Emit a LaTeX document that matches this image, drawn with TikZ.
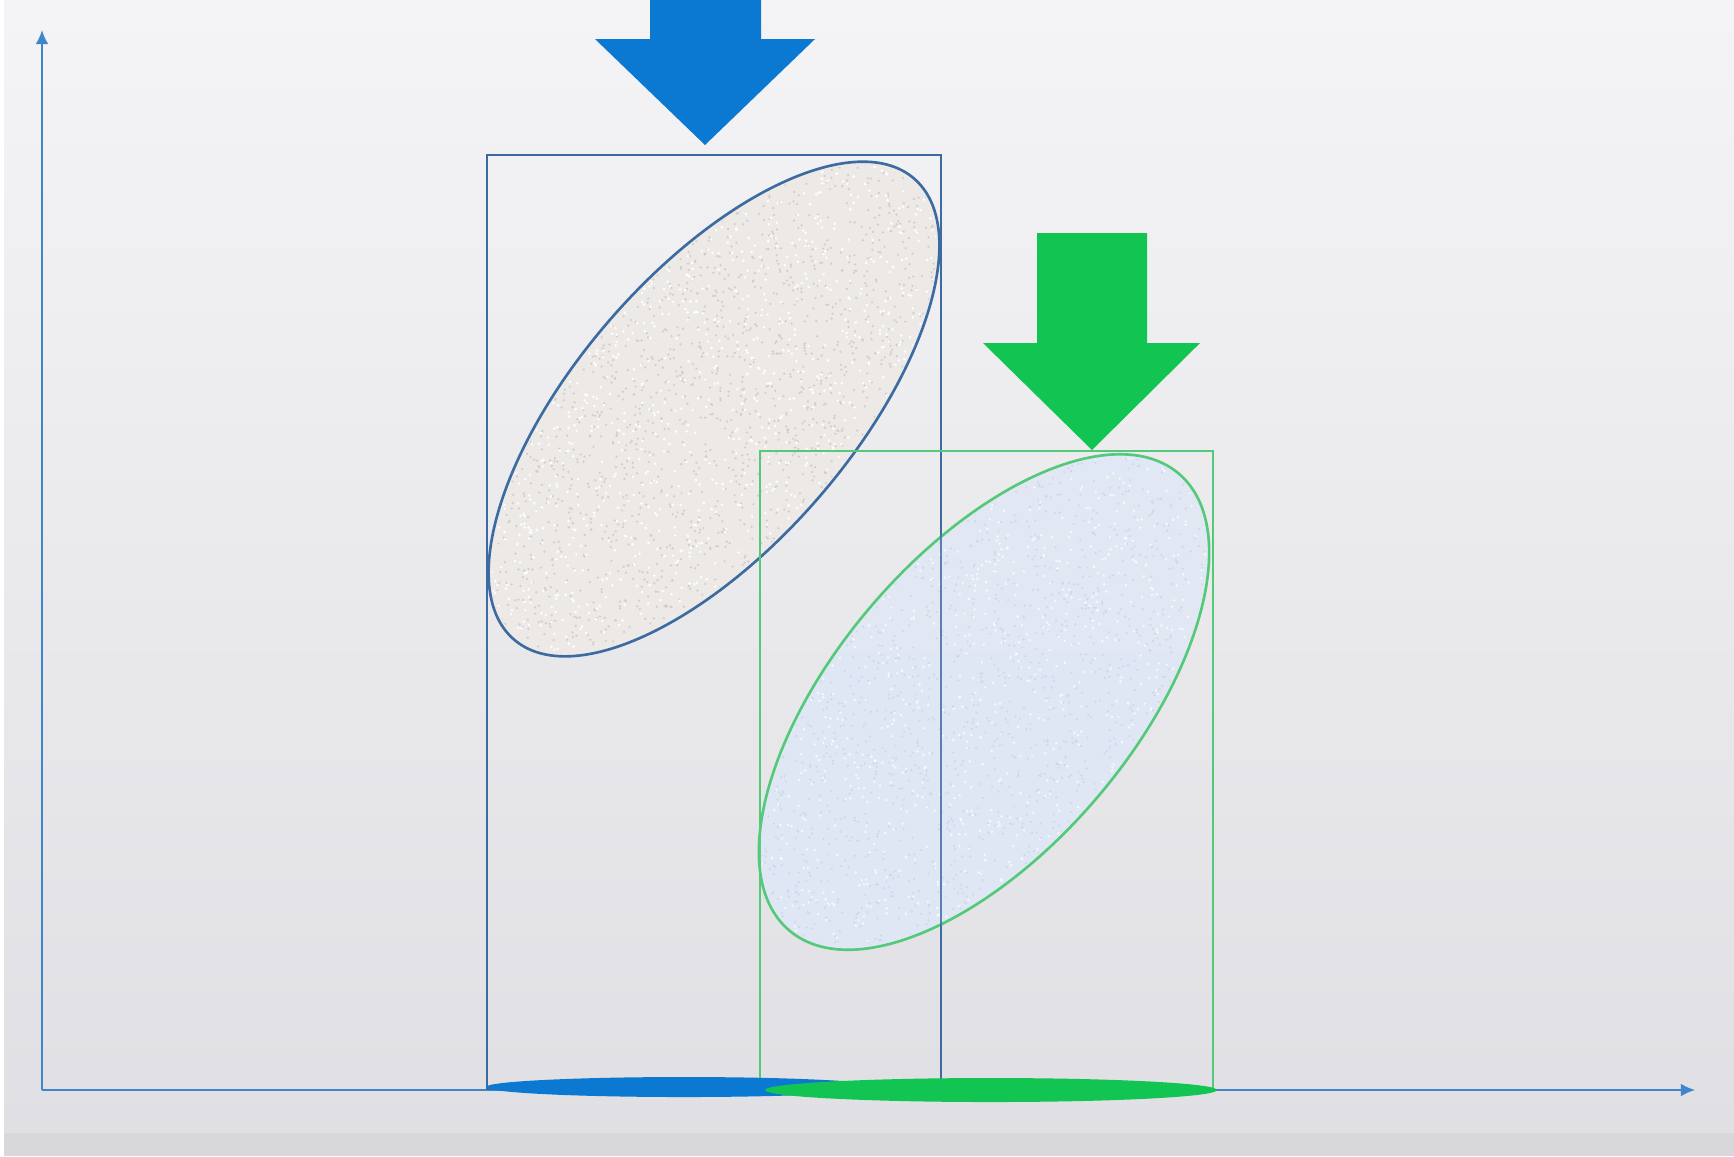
\documentclass[tikz,border=0pt]{standalone}
\usetikzlibrary{arrows.meta,shapes.geometric}
\definecolor{bgtop}{HTML}{F4F3F5}
\definecolor{bgbot}{HTML}{E0DFE3}
\definecolor{bgband}{HTML}{D8D8DA}
\definecolor{axisblue}{HTML}{3F85CC}
\definecolor{rectblue}{HTML}{3C6BA2}
\definecolor{rectgreen}{HTML}{55C97A}
\definecolor{arrowblue}{HTML}{0B78D2}
\definecolor{arrowgreen}{HTML}{12C553}
\definecolor{fillbeige}{HTML}{ECE9E6}
\definecolor{specbeige}{HTML}{D3CDC8}
\definecolor{filllblue}{HTML}{E0E8F6}
\definecolor{speclblue}{HTML}{CAD5E7}
\tikzset{
  axisline/.style={draw=axisblue,line width=0.5pt,-{Latex[length=4pt,width=3.6pt]}},
  bluebox/.style={draw=rectblue,line width=0.75pt},
  greenbox/.style={draw=rectgreen,line width=0.75pt},
  blueoval/.style={ellipse,draw=rectblue,line width=0.75pt,fill=fillbeige,inner sep=0pt,minimum width=6.1cm,minimum height=2.74cm,rotate=49},
  greenoval/.style={ellipse,draw=rectgreen,line width=0.75pt,fill=filllblue,fill opacity=0.88,draw opacity=1,inner sep=0pt,minimum width=6.0cm,minimum height=2.96cm,rotate=49.5},
  bigarrowblue/.style={fill=arrowblue},
  bigarrowgreen/.style={fill=arrowgreen},
  speck/.style={fill=#1},
}
\begin{document}
\begin{tikzpicture}[x=0.01cm,y=-0.01cm]
\useasboundingbox (0,0) rectangle (1734,1156);
% background
\shade[top color=bgtop,bottom color=bgbot] (0,0) rectangle (1734,1133);
\fill[bgband] (0,1133) rectangle (1734,1156);
\fill[white] (0,0) rectangle (4,1156);
% axes
\coordinate (O) at (42,1090);
\coordinate (Ytip) at (42,30);
\coordinate (Xtip) at (1695,1090);
\draw[axisline] (O) -- (Ytip);
\draw[axisline] (O) -- (Xtip);
% blue oval with speckle
\node[blueoval] (bov) at (714,409) {};
\begin{scope}
  \clip[rotate around={49:(bov.center)}] (bov.center) ellipse [x radius=302, y radius=134];
  \pgfmathsetseed{11}
  \foreach \i in {1,...,2200} {
    \pgfmathsetmacro\rx{rnd*460+484}
    \pgfmathsetmacro\ry{rnd*500+159}
    \fill[speck=specbeige] (\rx,\ry) circle [radius=0.35pt];
  }
  \foreach \i in {1,...,1400} {
    \pgfmathsetmacro\rx{rnd*460+484}
    \pgfmathsetmacro\ry{rnd*500+159}
    \fill[speck=white] (\rx,\ry) circle [radius=0.4pt];
  }
\end{scope}
% green rectangle drawn under the green oval
\coordinate (g1) at (760,451);
\coordinate (g2) at (1213,1089);
\draw[greenbox] (g1) rectangle (g2);
% blue rectangle
\coordinate (b1) at (487,155);
\coordinate (b2) at (941,1089);
\draw[bluebox] (b1) rectangle (b2);
% green oval with speckle
\node[greenoval] (gov) at (984,702) {};
\begin{scope}
  \clip[rotate around={49.5:(gov.center)}] (gov.center) ellipse [x radius=297, y radius=145];
  \pgfmathsetseed{23}
  \foreach \i in {1,...,1800} {
    \pgfmathsetmacro\rx{rnd*460+754}
    \pgfmathsetmacro\ry{rnd*500+452}
    \fill[speck=speclblue,fill opacity=0.8] (\rx,\ry) circle [radius=0.35pt];
  }
  \foreach \i in {1,...,1100} {
    \pgfmathsetmacro\rx{rnd*460+754}
    \pgfmathsetmacro\ry{rnd*500+452}
    \fill[speck=white,fill opacity=0.7] (\rx,\ry) circle [radius=0.4pt];
  }
\end{scope}
% rectangle edges crossing the ovals stay visible
\draw[bluebox,draw opacity=0.8] (b2 |- b1) -- (b2);
\draw[greenbox] (g1) -- (g1 -| g2);
\draw[greenbox,draw opacity=0.9] (g1) -- (g1 |- g2);
% projections on the x axis
\coordinate (bp) at (684,1087);
\coordinate (gp) at (991,1090);
\fill[arrowblue] (bp) ellipse [x radius=198, y radius=10];
\fill[arrowgreen] (gp) ellipse [x radius=226, y radius=12];
% big arrows
\fill[bigarrowblue] (650,0) -- (650,39) -- (595,39) -- (705,145) -- (815,39) -- (761,39) -- (761,0) -- cycle;
\fill[bigarrowgreen] (1037,233) -- (1037,343) -- (983,343) -- (1092,450) -- (1200,343) -- (1147,343) -- (1147,233) -- cycle;
\end{tikzpicture}
\end{document}
